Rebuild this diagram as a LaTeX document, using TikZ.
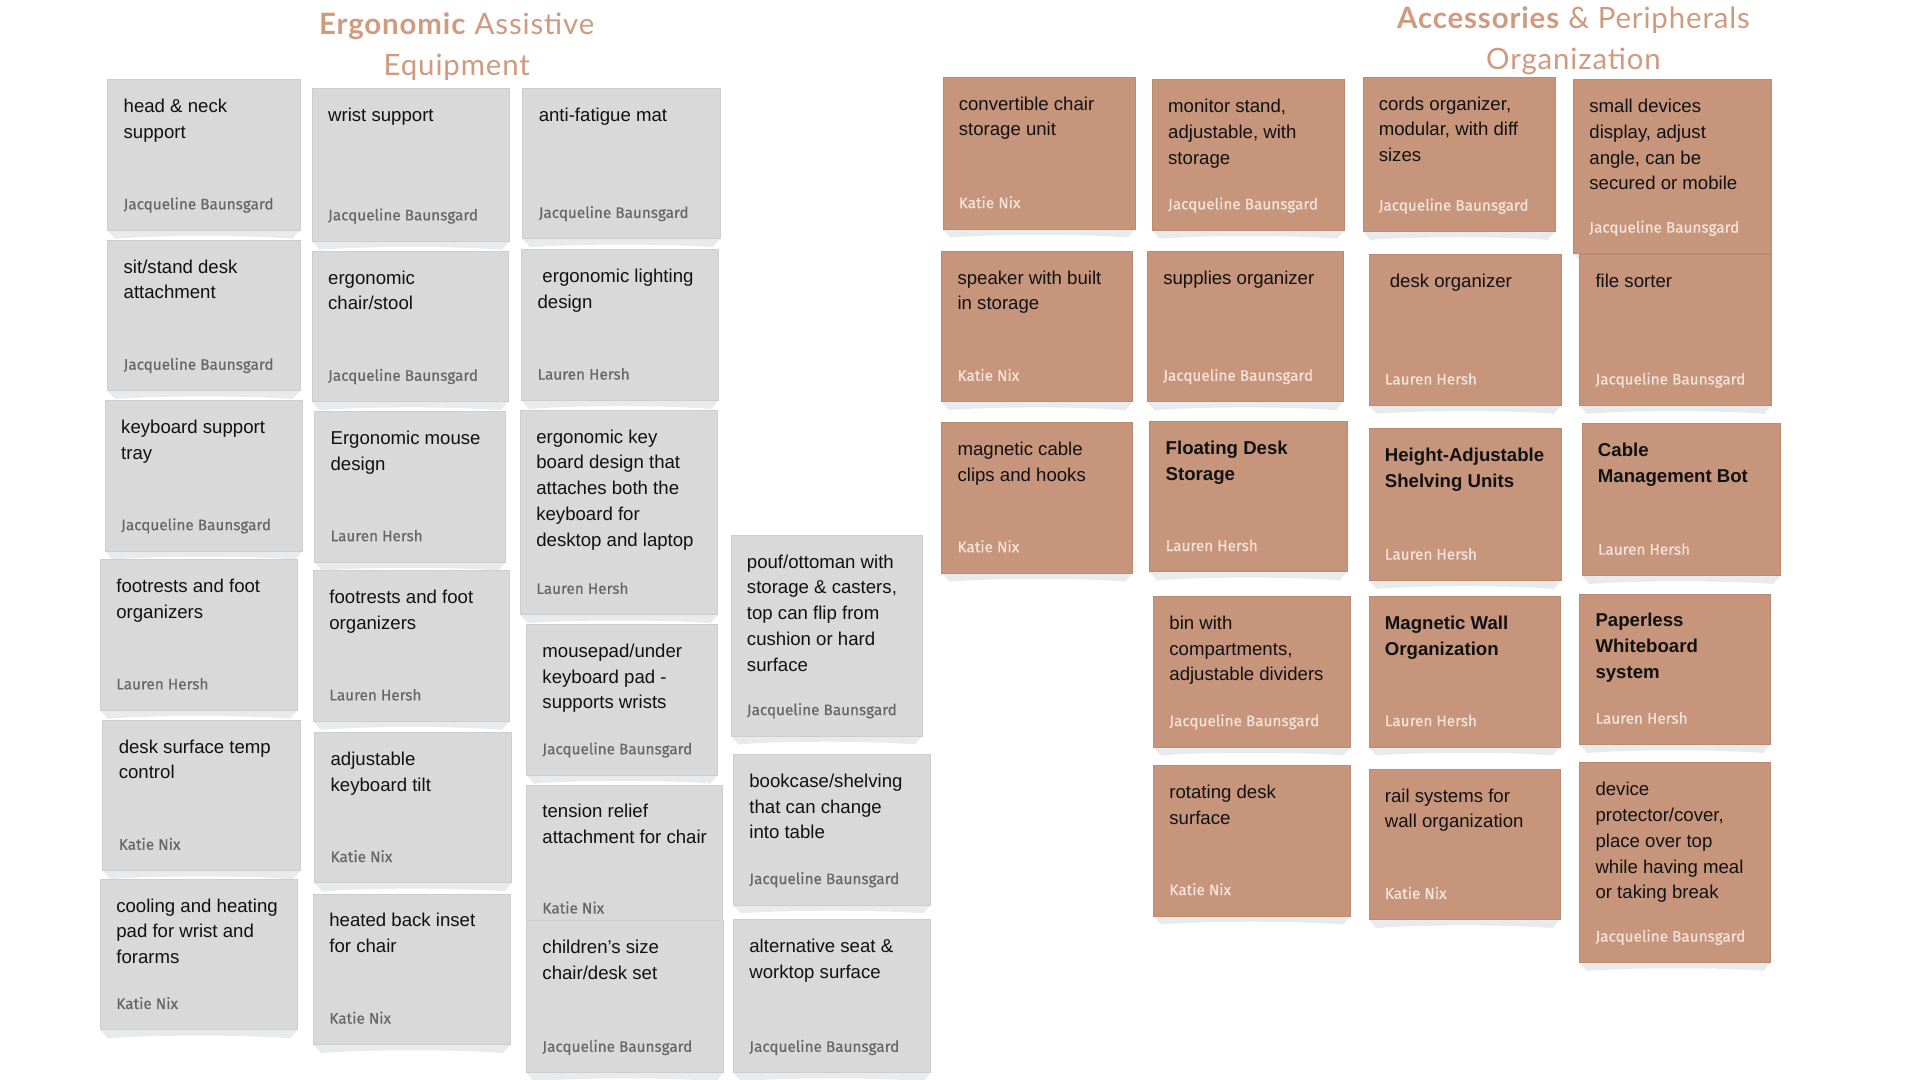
\documentclass[tikz,border=0pt]{standalone}
\usepackage{fontspec}
\setmainfont{Liberation Sans}
\newfontfamily\authfont{Fira Sans}[FakeBold=0.5]
\newfontfamily\titlefont{Lato}[LetterSpace=3]
\definecolor{notegray}{HTML}{D9D9D9}
\definecolor{grayedge}{HTML}{CDCDCD}
\definecolor{notetan}{HTML}{C7957B}
\definecolor{tanedge}{HTML}{BC8A70}
\definecolor{grayauth}{HTML}{676767}
\definecolor{tanauth}{HTML}{F4E4DB}
\definecolor{shadowc}{HTML}{E9EAEC}
\definecolor{titlec}{HTML}{CF9A7E}
\definecolor{textc}{HTML}{111111}
\tikzset{
  gbox/.style={fill=notegray, draw=grayedge, line width=0.6pt, inner sep=0pt, outer sep=0pt, anchor=north west},
  tbox/.style={fill=notetan, draw=tanedge, line width=0.6pt, inner sep=0pt, outer sep=0pt, anchor=north west},
  notetext/.style={anchor=north west, inner sep=0pt, outer sep=0pt, align=left, font=\fontsize{15.2}{21}\selectfont, text=textc},
  gauth/.style={anchor=base west, inner sep=0pt, outer sep=0pt, font=\authfont\fontsize{12.5}{14}\selectfont, text=grayauth},
  tauth/.style={anchor=base west, inner sep=0pt, outer sep=0pt, font=\authfont\fontsize{12.5}{14}\selectfont, text=tanauth},
  titlestyle/.style={anchor=north, inner sep=0pt, outer sep=0pt, align=center, text=titlec},
}
\newcommand\stickynote[8]{%
  \fill[shadowc] (#2,#5) -- (#4,#5) -- ({#4-6},{#5+7}) .. controls ({#4-40},{#5+4}) and ({#2+40},{#5+4}) .. ({#2+6},{#5+7}) -- cycle;
  \node[#6box, minimum width={(#4-#2)*1pt}, minimum height={(#5-#3)*1pt}] (#1) at (#2,#3) {};
  \node[notetext] (#1t) at ({#2+13},{#3+12.3}) {\strut #7};
  \node[#6auth] (#1a) at ({#2+13},{#5-17}) {#8};
}
\begin{document}
\begin{tikzpicture}[x=1pt,y=-1pt]
\useasboundingbox (0,0) rectangle (1568,882);
\fill[white] (0,0) rectangle (1568,882);

\node[titlestyle, font=\titlefont\fontsize{24}{33}\selectfont] (title1) at (373,5.3) {\strut\textbf{Ergonomic} Assistive\\Equipment};
\node[titlestyle, font=\titlefont\fontsize{24}{34}\selectfont] (title2) at (1285,-0.9) {\strut\textbf{Accessories} \& Peripherals\\Organization};

% Ergonomic column 1
\stickynote{ga}{88}{65}{245}{188}{g}{head \& neck\\support}{Jacqueline Baunsgard}
\stickynote{gb}{88}{196}{245}{319}{g}{sit/stand desk\\attachment}{Jacqueline Baunsgard}
\stickynote{gc}{86}{327}{247}{450}{g}{keyboard support\\tray}{Jacqueline Baunsgard}
\stickynote{gd}{82}{457}{243}{580}{g}{footrests and foot\\organizers}{Lauren Hersh}
\stickynote{ge}{84}{588}{245}{711}{g}{desk surface temp\\control}{Katie Nix}
\stickynote{gf}{82}{718}{243}{841}{g}{cooling and heating\\pad for wrist and\\forarms}{Katie Nix}
% column 2
\stickynote{gg}{255}{72}{416}{197}{g}{wrist support}{Jacqueline Baunsgard}
\stickynote{gh}{255}{205}{415}{328}{g}{ergonomic\\chair/stool}{Jacqueline Baunsgard}
\stickynote{gi}{257}{336}{413}{459}{g}{Ergonomic mouse\\design}{Lauren Hersh}
\stickynote{gj}{256}{466}{416}{589}{g}{footrests and foot\\organizers}{Lauren Hersh}
\stickynote{gk}{257}{598}{418}{721}{g}{adjustable\\keyboard tilt}{Katie Nix}
\stickynote{gl}{256}{730}{417}{853}{g}{heated back inset\\for chair}{Katie Nix}
% column 3
\stickynote{gm}{427}{72}{588}{195}{g}{anti-fatigue mat}{Jacqueline Baunsgard}
\stickynote{gn}{426}{204}{587}{327}{g}{\hspace*{4pt}ergonomic lighting\\design}{Lauren Hersh}
\stickynote{go}{425}{335}{586}{502}{g}{ergonomic key\\board design that\\attaches both the\\keyboard for\\desktop and laptop}{Lauren Hersh}
\stickynote{gp}{430}{510}{586}{633}{g}{mousepad/under\\keyboard pad -\\supports wrists}{Jacqueline Baunsgard}
\stickynote{gq}{430}{641}{590}{763}{g}{tension relief\\attachment for chair}{Katie Nix}
\stickynote{gr}{430}{752}{591}{876}{g}{children’s size\\chair/desk set}{Jacqueline Baunsgard}
% column 4
\stickynote{gs}{597}{437}{753}{601}{g}{pouf/ottoman with\\storage \& casters,\\top can flip from\\cushion or hard\\surface}{Jacqueline Baunsgard}
\stickynote{gt}{599}{616}{760}{739}{g}{bookcase/shelving\\that can change\\into table}{Jacqueline Baunsgard}
\stickynote{gu}{599}{751}{760}{876}{g}{alternative seat \&\\worktop surface}{Jacqueline Baunsgard}

% Accessories column A
\stickynote{ta}{770}{63}{927}{187}{t}{convertible chair\\storage unit}{Katie Nix}
\stickynote{tb}{769}{205}{925}{328}{t}{speaker with built\\in storage}{Katie Nix}
\stickynote{tc}{769}{345}{925}{468}{t}{magnetic cable\\clips and hooks}{Katie Nix}
% column B
\stickynote{td}{941}{65}{1098}{188}{t}{monitor stand,\\adjustable, with\\storage}{Jacqueline Baunsgard}
\stickynote{te}{937}{205}{1097}{328}{t}{supplies organizer}{Jacqueline Baunsgard}
\stickynote{tf}{939}{344}{1100}{467}{t}{\textbf{Floating Desk}\\\textbf{Storage}}{Lauren Hersh}
\stickynote{tg}{942}{487}{1103}{610}{t}{bin with\\compartments,\\adjustable dividers}{Jacqueline Baunsgard}
\stickynote{th}{942}{625}{1103}{748}{t}{rotating desk\\surface}{Katie Nix}
% column C
\stickynote{ti}{1113}{63}{1270}{189}{t}{cords organizer,\\modular, with diff\\sizes}{Jacqueline Baunsgard}
\stickynote{tj}{1118}{208}{1275}{331}{t}{\hspace*{4pt}desk organizer}{Lauren Hersh}
\stickynote{tk}{1118}{350}{1275}{474}{t}{\textbf{Height-Adjustable}\\\textbf{Shelving Units}}{Lauren Hersh}
\stickynote{tl}{1118}{487}{1274}{610}{t}{\textbf{Magnetic Wall}\\\textbf{Organization}}{Lauren Hersh}
\stickynote{tm}{1118}{628}{1274}{751}{t}{rail systems for\\wall organization}{Katie Nix}
% column D
\stickynote{tn}{1285}{65}{1447}{207}{t}{small devices\\display, adjust\\angle, can be\\secured or mobile}{Jacqueline Baunsgard}
\stickynote{to}{1290}{208}{1447}{331}{t}{file sorter}{Jacqueline Baunsgard}
\stickynote{tp}{1292}{346}{1454}{470}{t}{\textbf{Cable}\\\textbf{Management Bot}}{Lauren Hersh}
\stickynote{tq}{1290}{485}{1446}{608}{t}{\textbf{Paperless}\\\textbf{Whiteboard}\\\textbf{system}}{Lauren Hersh}
\stickynote{tr}{1290}{623}{1446}{786}{t}{device\\protector/cover,\\place over top\\while having meal\\or taking break}{Jacqueline Baunsgard}
\end{tikzpicture}
\end{document}
